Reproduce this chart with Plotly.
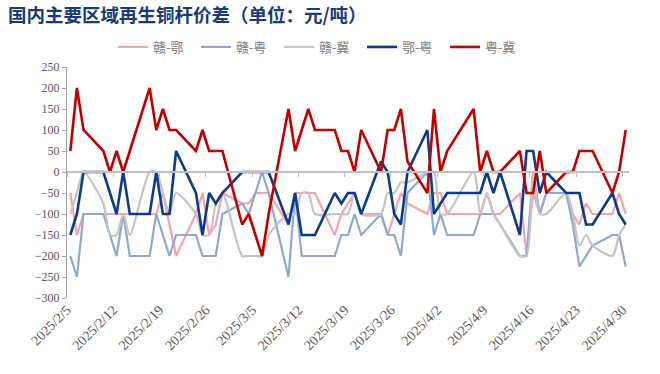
import pandas as pd
import plotly.graph_objects as go

dates = (
    ["2025-02-%02d" % d for d in [5, 6, 7, 10, 11, 12, 13, 14, 17, 18, 19, 20, 21, 24, 25, 26, 27, 28]]
    + ["2025-03-%02d" % d for d in [3, 4, 5, 6, 7, 10, 11, 12, 13, 14, 17, 18, 19, 20, 21, 24, 25, 26, 27, 28, 31]]
    + ["2025-04-%02d" % d for d in [1, 2, 3, 7, 8, 9, 10, 11, 14, 15, 16, 17, 18, 21, 22, 23, 24, 25, 28, 29, 30]]
)

gan_e = [-50, -150, -100, -100, -100, -100, -100, -100, -100, -100, -50, -125, -200, -100, -50, -150, -125, -50,
         -75, -75, -50, -50, -50, -125, -50, -50, -50, -50, -150, -100, -75, -50, -100, -100, -150, -100, -50, -75, -100,
         -50, -50, -100, -100, -100, -50, -100, -100, -50, -200, -50, -100, -50, -50, -100, -125, -75, -100, -100, -50, -100]
gan_yue = [-200, -250, -100, -100, -150, -200, -100, -200, -200, -100, -150, -200, -150, -150, -200, -200, -200, -100,
           -75, -100, -50, 0, -50, -250, -50, -200, -200, -200, -200, -150, -150, -100, -150, -100, -150, -150, -200, -50, 0,
           -150, -100, -150, -150, -100, -100, -100, -125, -200, -200, 0, -100, -50, -50, -125, -225, -200, -175, -150, -150, -225]
gan_ji = [-100, -50, 0, -75, -150, -150, -100, -150, 0, 0, -50, -100, -50, -100, -150, -150, -75, -50,
          -200, -200, -200, -200, -150, -100, -100, -50, -50, -100, -100, -100, -100, -50, -100, -100, -50, -50, -25, -25, 0,
          0, -100, -100, 0, -100, -50, -100, -125, -200, -200, 0, -100, -100, -50, -100, -175, -150, -175, -200, -150, -125]
e_yue = [-150, -100, 0, 0, -50, -100, 0, -100, -100, 0, -100, -100, 50, -50, -150, -50, -75, -50,
         0, 0, 0, 0, 0, -125, -50, -150, -150, -150, -50, -75, -50, -50, -100, 25, 0, -100, -125, 0, 100,
         -100, -75, -50, -50, -50, 0, -50, 0, -150, 50, 50, -50, 0, -50, -50, -50, -125, -125, -50, -100, -125]
yue_ji = [50, 200, 100, 50, 0, 50, 0, 50, 200, 100, 150, 100, 100, 50, 100, 50, 50, 50,
          -125, -100, -150, -200, -100, 150, 50, 100, 150, 100, 100, 50, 50, 0, 100, 0, 100, 100, 150, 25, -50,
          150, 0, 50, 150, 0, 50, 0, 0, 50, -50, -50, 50, -50, 0, 0, 50, 50, 50, -50, 0, 100]

series_names = ["赣-鄂", "赣-粤", "赣-冀", "鄂-粤", "粤-冀"]
series_values = [gan_e, gan_yue, gan_ji, e_yue, yue_ji]
series_colors = ["#F3A3AE", "#8FA8CF", "#C4C4C4", "#0E3A8A", "#C00000"]
series_widths = [2.2, 2.2, 2.2, 2.6, 2.6]
series_shapes = ["linear", "linear", "spline", "linear", "linear"]

tick_dates = ["2025-02-05", "2025-02-12", "2025-02-19", "2025-02-26", "2025-03-05", "2025-03-12", "2025-03-19",
              "2025-03-26", "2025-04-02", "2025-04-09", "2025-04-16", "2025-04-23", "2025-04-30"]
tick_labels = ["2025/2/5", "2025/2/12", "2025/2/19", "2025/2/26", "2025/3/5", "2025/3/12", "2025/3/19",
               "2025/3/26", "2025/4/2", "2025/4/9", "2025/4/16", "2025/4/23", "2025/4/30"]
y_ticks = list(range(-300, 251, 50))

x = pd.to_datetime(dates)
half = pd.Timedelta(hours=12)
tickvals = [pd.Timestamp(d) - half for d in tick_dates]
x_range = [pd.Timestamp(dates[0]) - half, pd.Timestamp(dates[-1]) + half]

fig = go.Figure()
for name, vals, col, w, shp in zip(series_names, series_values, series_colors, series_widths, series_shapes):
    fig.add_trace(go.Scatter(x=x, y=vals, name=name, mode="lines",
                             line=dict(color=col, width=w, shape=shp, smoothing=0.7),
                             hoverinfo="skip"))

# invisible helper trace to host the axis drawn along y = 0
fig.add_trace(go.Scatter(x=x, y=yue_ji, xaxis="x2", mode="lines", line=dict(width=0),
                         showlegend=False, hoverinfo="skip", opacity=0))

y_min, y_max = y_ticks[0], y_ticks[-1]
zero_pos = (0 - y_min) / (y_max - y_min)

serif = "Liberation Serif, Noto Sans CJK SC, serif"
fig.update_layout(
    width=660, height=374,
    margin=dict(l=67, r=31, t=67, b=76, autoexpand=False),
    paper_bgcolor="white", plot_bgcolor="white",
    title=dict(text="<b>国内主要区域再生铜杆价差（单位：元/吨）</b>",
               xref="container", x=0.012, xanchor="left",
               yref="container", y=1 - 16 / 374, yanchor="middle",
               font=dict(family="Noto Sans CJK SC", size=18.5, color="#1B3A78")),
    legend=dict(orientation="h", xref="container", x=113 / 660, xanchor="left",
                yref="container", y=1 - 47 / 374, yanchor="middle",
                font=dict(family=serif, size=13, color="#808080"),
                entrywidth=38, entrywidthmode="pixels",
                itemwidth=30, tracegroupgap=0, bgcolor="rgba(0,0,0,0)"),
    xaxis=dict(type="date", range=x_range, tickvals=tickvals, ticktext=tick_labels,
               tickangle=-45, showgrid=False, zeroline=False, showline=False, ticks="",
               automargin=False,
               tickfont=dict(family=serif, size=14, color="#595959")),
    xaxis2=dict(type="date", overlaying="x", matches="x", anchor="free", position=zero_pos,
                side="bottom", tickvals=tickvals, showticklabels=False, showgrid=False,
                showline=True, linecolor="#BFBFBF", linewidth=1.5,
                ticks="outside", ticklen=4, tickcolor="#BFBFBF", tickwidth=1),
    yaxis=dict(range=[y_min, y_max], tickvals=y_ticks, showgrid=False, zeroline=False,
               showline=True, linecolor="#A6A6A6", linewidth=1, ticks="outside", ticklen=4,
               tickcolor="#A6A6A6", automargin=False,
               tickfont=dict(family=serif, size=12, color="#595959")),
    showlegend=True,
)

fig.write_html("out.html", config={"displayModeBar": False},
               post_script="document.body.style.margin='0';")
